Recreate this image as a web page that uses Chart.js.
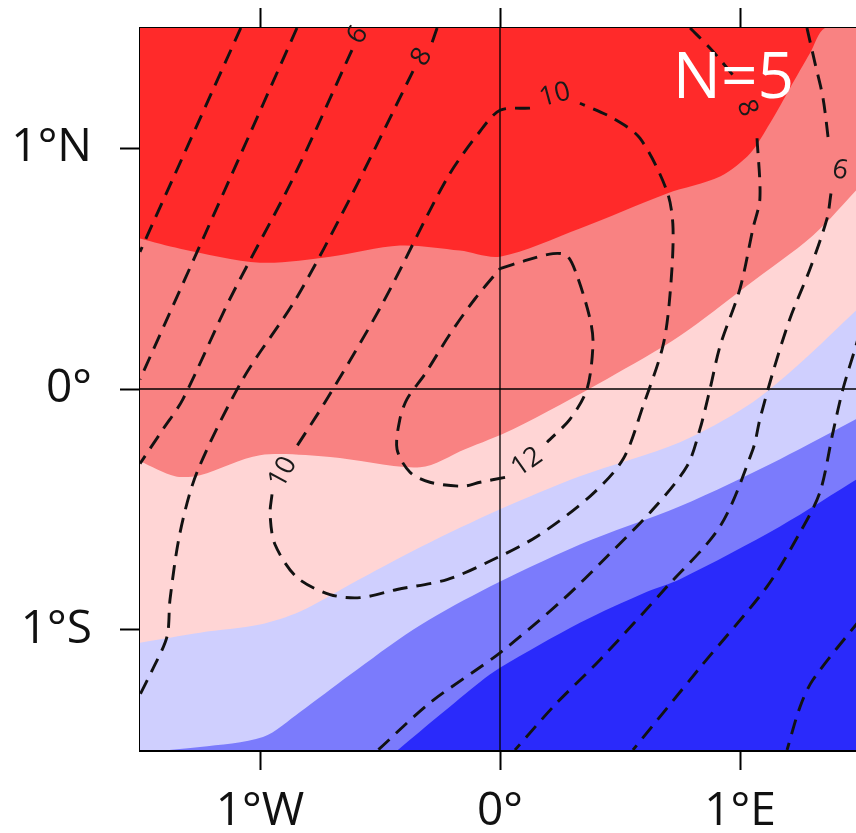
<!DOCTYPE html>
<html><head><meta charset="utf-8">
<script src="https://cdn.jsdelivr.net/npm/chart.js@4.4.1/dist/chart.umd.min.js"></script>
<style>
html,body{margin:0;padding:0;background:#fff;overflow:hidden;width:856px;height:833px;}
canvas{display:block;}
</style></head><body>
<canvas id="c" width="860" height="833"></canvas>
<script>
// ---- axes ----
const lonTicks = [-1, 0, 1];
const lonTickLabels = ['1°W', '0°', '1°E'];
const latTicks = [-1, 0, 1];
const latTickLabels = ['1°S', '0°', '1°N'];
const lonRange = [-1.5, 1.5];
const latRange = [-1.5, 1.5];

// ---- filled bands (north/warm to south/cold) ----
const bandColors = ['#ff2a2a', '#f98282', '#ffd5d5', '#cfcffe', '#7b7bfc', '#2a2afb'];
// boundaries between consecutive bands: [lon, lat]
const edgeRedSalmon = [[-1.5,0.625],[-1.333,0.583],[-1.0,0.525],[-0.708,0.55],[-0.417,0.596],[-0.167,0.575],[0,0.55],[0.333,0.667],[0.696,0.8125],[0.917,0.883],[1.042,0.979],[1.125,1.104],[1.208,1.25],[1.292,1.396],[1.354,1.5],[1.5,1.5]];
const edgeSalmonPink = [[-1.5,-0.3],[-1.354,-0.3625],[-1.25,-0.358],[-1.0,-0.275],[-0.708,-0.283],[-0.333,-0.325],[-0.146,-0.25],[0.054,-0.167],[0.446,0.042],[0.75,0.221],[1.029,0.429],[1.304,0.6375],[1.5,0.842]];
const edgePinkLightBlue = [[-1.5,-1.054],[-1.25,-1.0125],[-1.0,-0.979],[-0.833,-0.925],[-0.625,-0.8125],[-0.333,-0.658],[0,-0.5],[0.333,-0.3625],[0.75,-0.221],[1.029,-0.071],[1.2375,0.096],[1.5,0.342]];
const edgeLightMidBlue = [[-1.5,-1.51],[-1.25,-1.4875],[-0.9875,-1.446],[-0.833,-1.342],[-0.625,-1.1875],[-0.3625,-1.0],[-0.083,-0.842],[0.333,-0.646],[0.75,-0.4875],[1.1667,-0.2917],[1.5,-0.1167]];
const edgeMidDeepBlue = [[-0.4375,-1.51],[-0.25,-1.354],[-0.083,-1.217],[0,-1.158],[0.333,-0.971],[0.6125,-0.842],[0.75,-0.79],[1.1667,-0.571],[1.5,-0.367]];

// ---- dashed contours: [lon, lat]; lat null = gap for a label ----
const contourA = [[-1.08,1.5],[-1.5,0.57]];
const contourB = [[-0.846,1.5],[-1.125,0.875],[-1.5,0.04]];
const contourC = [[-0.617,1.408],[-0.8625,0.875],[-1.125,0.375],[-1.321,-0.042],[-1.404,-0.167],[-1.5,-0.31]];
const contourD = [[-0.262,1.5],[-0.283,1.44],[-0.3,null],[-0.3625,1.321],[-0.625,0.792],[-0.85,0.375],[-1.071,0.042],[-1.2625,-0.346],[-1.333,-0.596],[-1.375,-0.875],[-1.3875,-1.029],[-1.45,-1.17],[-1.5,-1.27]];
const contourE = [[0.125,1.167],[0,1.158],[-0.083,1.071],[-0.221,0.875],[-0.49,0.354],[-0.721,-0.042],[-0.8625,-0.2625],[-0.9,null],[-0.95,-0.4375],[-0.958,-0.521],[-0.9375,-0.646],[-0.846,-0.783],[-0.708,-0.854],[-0.583,-0.867],[-0.429,-0.833],[-0.221,-0.792],[-0.054,-0.721],[0.154,-0.6125],[0.375,-0.446],[0.5125,-0.292],[0.596,-0.071],[0.679,0.179],[0.708,0.3875],[0.721,0.667],[0.696,0.821],[0.583,1.042],[0.471,1.125],[0.333,1.1875]];
const contourF = [[0,0.5],[0.104,0.533],[0.221,0.5625],[0.279,0.554],[0.321,0.471],[0.375,0.292],[0.3875,0.1875],[0.3625,0],[0.292,-0.125],[0.196,-0.221],[0.15,null],[0.021,-0.367],[-0.083,-0.3875],[-0.154,-0.404],[-0.292,-0.3875],[-0.375,-0.346],[-0.429,-0.25],[-0.417,-0.125],[-0.3875,-0.042],[-0.3125,0.0625],[-0.208,0.229],[-0.104,0.375],[0,0.5]];
const contourG = [[0.792,1.5],[0.883,1.408],[0.971,1.304],[1.0,null],[1.071,1.042],[1.083,0.792],[1.054,0.667],[1.0,0.417],[0.917,0.179],[0.875,0],[0.833,-0.167],[0.779,-0.321],[0.6375,-0.5],[0.446,-0.696],[0.2625,-0.875],[0,-1.096],[-0.292,-1.304],[-0.508,-1.5]];
const contourH = [[1.279,1.5],[1.3125,1.354],[1.346,1.208],[1.371,1.0125],[1.39,null],[1.379,0.8125],[1.3625,0.708],[1.292,0.5],[1.208,0.292],[1.1375,0.071],[1.083,-0.125],[1.054,-0.25],[0.917,-0.571],[0.696,-0.821],[0.417,-1.125],[0.229,-1.3125],[0.0625,-1.5]];
const contourI = [[1.5,0.242],[1.483,0.179],[1.429,0],[1.3875,-0.179],[1.333,-0.429],[1.25,-0.596],[1.1125,-0.821],[0.833,-1.158],[0.554,-1.5]];
const contourJ = [[1.5,-0.958],[1.304,-1.208],[1.25,-1.321],[1.196,-1.5]];

// ---- contour labels ----
const contourLabelText = ['6', '8', '10', '8', '6', '10', '12'];
const contourLabelAt = [[-0.592,1.471],[-0.325,1.38],[0.229,1.221],[1.029,1.167],[1.417,0.908],[-0.904,-0.346],[0.1125,-0.304]];
const panelText = 'N=5';
const panelTextAt = [0.72, 1.21];

// ---- styles ----
const labelAngles = [-60, -60, -15, 70, 10, -62, -35];
const toPts = arr => arr.map(p => ({x: p[0], y: p[1]}));

const datasets = [];
datasets.push({data: toPts([[lonRange[0], latRange[1]], [lonRange[1], latRange[1]]]), fill: 'start',
  backgroundColor: bandColors[0], borderColor: 'rgba(0,0,0,0)', borderWidth: 0, order: 100});
[edgeRedSalmon, edgeSalmonPink, edgePinkLightBlue, edgeLightMidBlue, edgeMidDeepBlue].forEach((e, i) => {
  datasets.push({data: toPts(e), fill: 'start', backgroundColor: bandColors[i + 1],
    borderColor: 'rgba(0,0,0,0)', borderWidth: 0, tension: 0.3, order: 99 - i});
});
// zero lines
datasets.push({data: toPts([[0, latRange[0]], [0, latRange[1]]]), borderColor: '#000', borderWidth: 1.3, fill: false, order: 20});
datasets.push({data: toPts([[lonRange[0], 0], [lonRange[1], 0]]), borderColor: '#000', borderWidth: 1.3, fill: false, order: 20});
[contourA, contourB, contourC, contourD, contourE, contourF, contourG, contourH, contourI, contourJ].forEach(c => {
  datasets.push({data: toPts(c), borderColor: '#121212', borderWidth: 2.9, borderDash: [15, 9],
    fill: false, tension: 0.3, spanGaps: false, order: 10});
});
datasets.forEach(d => { d.xAxisID = 'x'; d.yAxisID = 'y'; d.pointRadius = 0; });

const annot = {
  id: 'annot',
  afterDatasetsDraw(chart) {
    const {ctx} = chart; const x = chart.scales.x, y = chart.scales.y;
    ctx.save();
    ctx.fillStyle = '#1a1a1a';
    ctx.font = '27px "Open Sans"';
    ctx.textAlign = 'center'; ctx.textBaseline = 'middle';
    contourLabelText.forEach((t, i) => {
      ctx.save();
      ctx.translate(x.getPixelForValue(contourLabelAt[i][0]), y.getPixelForValue(contourLabelAt[i][1]));
      ctx.rotate(labelAngles[i] * Math.PI / 180);
      ctx.fillText(t, 0, 0);
      ctx.restore();
    });
    ctx.fillStyle = '#ffffff';
    ctx.font = '64px "Open Sans"';
    ctx.textAlign = 'left'; ctx.textBaseline = 'alphabetic';
    ctx.fillText(panelText, x.getPixelForValue(panelTextAt[0]), y.getPixelForValue(panelTextAt[1]));
    ctx.restore();
  }
};

const tickFont = {family: 'Open Sans', size: 46};
const gridOpts = {drawOnChartArea: false, drawTicks: true, tickLength: 20, tickWidth: 2, tickColor: '#000', color: '#000'};
const borderOpts = {display: true, color: '#000', width: 3};
const noPad = s => { s.paddingTop = 0; s.paddingBottom = 0; s.paddingLeft = 0; s.paddingRight = 0; };

new Chart(document.getElementById('c'), {
  type: 'line',
  data: {datasets},
  plugins: [annot],
  options: {
    responsive: false, animation: false, devicePixelRatio: 1,
    layout: {padding: 0},
    plugins: {legend: {display: false}, tooltip: {enabled: false}},
    elements: {point: {radius: 0}},
    scales: {
      x: {type: 'linear', axis: 'x', position: 'bottom', min: lonRange[0], max: lonRange[1], z: 1,
        grid: gridOpts, border: borderOpts,
        afterBuildTicks: s => { s.ticks = lonTicks.map(v => ({value: v})); },
        afterFit: s => { s.height = 83; noPad(s); },
        ticks: {autoSkip: false, maxRotation: 0, padding: 14, font: tickFont, color: '#111',
          callback: v => lonTickLabels[lonTicks.indexOf(v)]}},
      xTop: {type: 'linear', axis: 'x', position: 'top', min: lonRange[0], max: lonRange[1], z: 1,
        grid: gridOpts, border: borderOpts,
        afterBuildTicks: s => { s.ticks = lonTicks.map(v => ({value: v})); },
        afterFit: s => { s.height = 28; noPad(s); },
        ticks: {display: false}},
      y: {type: 'linear', axis: 'y', position: 'left', min: latRange[0], max: latRange[1], z: 1,
        grid: gridOpts, border: borderOpts,
        afterBuildTicks: s => { s.ticks = latTicks.map(v => ({value: v})); },
        afterFit: s => { s.width = 140; noPad(s); },
        ticks: {autoSkip: false, padding: 28, font: tickFont, color: '#111',
          callback: v => latTickLabels[latTicks.indexOf(v)]}}
    }
  }
});
</script>
</body></html>
